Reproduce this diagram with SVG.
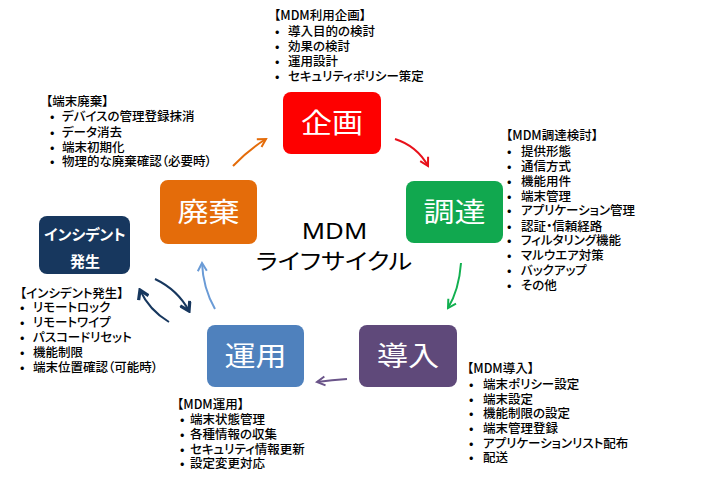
<svg xmlns="http://www.w3.org/2000/svg" width="708" height="487" viewBox="0 0 708 487">
<style>
.t{font-family:"Noto Sans CJK JP","Noto Sans",sans-serif;font-size:12.5px;font-weight:500;fill:#000;font-feature-settings:"palt";}
.big{font-family:"Noto Sans CJK JP","Noto Sans",sans-serif;font-size:27px;fill:#fff;text-anchor:middle;}
.inc{font-family:"Noto Sans CJK JP","Noto Sans",sans-serif;font-size:15px;font-weight:bold;fill:#fff;text-anchor:middle;font-feature-settings:"palt";}
.c{fill:none;stroke-width:2;}
</style>
<defs>
<marker id="mo" viewBox="-10 -6 12 12" markerWidth="12" markerHeight="12" refX="0" refY="0" orient="auto" markerUnits="userSpaceOnUse"><path d="M-8,-4.5 L0,0 L-8,4.5" fill="none" stroke="#e46c0a" stroke-width="2"/></marker>
<marker id="mr" viewBox="-10 -6 12 12" markerWidth="12" markerHeight="12" refX="0" refY="0" orient="auto" markerUnits="userSpaceOnUse"><path d="M-8,-4.5 L0,0 L-8,4.5" fill="none" stroke="#e8111b" stroke-width="2"/></marker>
<marker id="mg" viewBox="-10 -6 12 12" markerWidth="12" markerHeight="12" refX="0" refY="0" orient="auto" markerUnits="userSpaceOnUse"><path d="M-8,-4.5 L0,0 L-8,4.5" fill="none" stroke="#12b050" stroke-width="2"/></marker>
<marker id="mp" viewBox="-10 -6 12 12" markerWidth="12" markerHeight="12" refX="0" refY="0" orient="auto" markerUnits="userSpaceOnUse"><path d="M-8,-4.5 L0,0 L-8,4.5" fill="none" stroke="#6a5489" stroke-width="2"/></marker>
<marker id="mb" viewBox="-10 -6 12 12" markerWidth="12" markerHeight="12" refX="0" refY="0" orient="auto" markerUnits="userSpaceOnUse"><path d="M-8,-4.5 L0,0 L-8,4.5" fill="none" stroke="#6a9bd6" stroke-width="2"/></marker>
<marker id="mn" viewBox="-10 -6 12 12" markerWidth="13" markerHeight="13" refX="0" refY="0" orient="auto" markerUnits="userSpaceOnUse"><path d="M-8,-5 L0,0 L-8,5" fill="none" stroke="#17375e" stroke-width="3"/></marker>
</defs>

<g id="connectors">
<path class="c" stroke="#e46c0a" d="M233,166 Q248,150 266,139" marker-end="url(#mo)"/>
<path class="c" stroke="#e8111b" d="M395,139 Q417,146 428,166" marker-end="url(#mr)"/>
<path class="c" stroke="#12b050" d="M461,263 Q459,290 448,308" marker-end="url(#mg)"/>
<path class="c" stroke="#6a5489" d="M347,379 Q332,380 317,382" marker-end="url(#mp)"/>
<path class="c" stroke="#6a9bd6" d="M215,309 Q203,288 202,263" marker-end="url(#mb)"/>
<path class="c" stroke="#17375e" stroke-width="3" d="M155,279 Q178,290 189,311" marker-end="url(#mn)"/>
<path class="c" stroke="#17375e" stroke-width="3" d="M169,322 Q149,310 140,290" marker-end="url(#mn)"/>
</g>

<g id="kikaku">
<rect x="283" y="92" width="98" height="62" rx="8" fill="#fe0000"/>
<text class="big" transform="translate(332,132.5) scale(1.15,1)">企画</text>
</g>
<g id="chotatsu">
<rect x="406" y="181" width="97" height="62" rx="8" fill="#11a84f"/>
<text class="big" transform="translate(454.5,221.5) scale(1.15,1)">調達</text>
</g>
<g id="donyu">
<rect x="359" y="325" width="98" height="62" rx="8" fill="#5f497a"/>
<text class="big" transform="translate(408,365.5) scale(1.15,1)">導入</text>
</g>
<g id="unyo">
<rect x="207" y="325" width="97" height="62" rx="8" fill="#4f81bd"/>
<text class="big" transform="translate(255.5,365.5) scale(1.15,1)">運用</text>
</g>
<g id="haiki">
<rect x="160" y="180" width="97" height="64" rx="8" fill="#e46c0a"/>
<text class="big" transform="translate(208.5,221.5) scale(1.15,1)">廃棄</text>
</g>
<g id="incident">
<rect x="39" y="216" width="91" height="58" rx="8" fill="#17375e"/>
<text class="inc" x="85" y="240">インシデント</text>
<text class="inc" x="85" y="267">発生</text>
</g>

<g id="center-title">
<text transform="translate(334.5,239) scale(1.15,1)" text-anchor="middle" style="font-family:'Noto Sans',sans-serif;font-size:22.4px;fill:#000">MDM</text>
<text transform="translate(334,269) scale(1.15,1)" text-anchor="middle" style="font-family:'Noto Sans CJK JP',sans-serif;font-size:22px;fill:#000;font-feature-settings:'palt'">ライフサイクル</text>
</g>

<g id="note-kikaku">
<text class="t" x="274" y="20">【MDM利用企画】</text>
<text class="t" y="36"><tspan x="275">•</tspan><tspan x="288">導入目的の検討</tspan></text>
<text class="t" y="51"><tspan x="275">•</tspan><tspan x="288">効果の検討</tspan></text>
<text class="t" y="66"><tspan x="275">•</tspan><tspan x="288">運用設計</tspan></text>
<text class="t" y="81"><tspan x="275">•</tspan><tspan x="288">セキュリティポリシー策定</tspan></text>
</g>

<g id="note-haiki">
<text class="t" x="46" y="106">【端末廃棄】</text>
<text class="t" y="121"><tspan x="50">•</tspan><tspan x="62">デバイスの管理登録抹消</tspan></text>
<text class="t" y="136.5"><tspan x="50">•</tspan><tspan x="62">データ消去</tspan></text>
<text class="t" y="151.5"><tspan x="50">•</tspan><tspan x="62">端末初期化</tspan></text>
<text class="t" y="166"><tspan x="50">•</tspan><tspan x="62">物理的な廃棄確認（必要時）</tspan></text>
</g>

<g id="note-chotatsu">
<text class="t" x="506" y="139.5">【MDM調達検討】</text>
<text class="t" y="156"><tspan x="507">•</tspan><tspan x="521">提供形態</tspan></text>
<text class="t" y="171"><tspan x="507">•</tspan><tspan x="521">通信方式</tspan></text>
<text class="t" y="185.5"><tspan x="507">•</tspan><tspan x="521">機能用件</tspan></text>
<text class="t" y="200.5"><tspan x="507">•</tspan><tspan x="521">端末管理</tspan></text>
<text class="t" y="215"><tspan x="507">•</tspan><tspan x="521">アプリケーション管理</tspan></text>
<text class="t" y="230.5"><tspan x="507">•</tspan><tspan x="521">認証・信頼経路</tspan></text>
<text class="t" y="245"><tspan x="507">•</tspan><tspan x="521">フィルタリング機能</tspan></text>
<text class="t" y="260"><tspan x="507">•</tspan><tspan x="521">マルウエア対策</tspan></text>
<text class="t" y="275"><tspan x="507">•</tspan><tspan x="521">バックアップ</tspan></text>
<text class="t" y="289.5"><tspan x="507">•</tspan><tspan x="521">その他</tspan></text>
</g>

<g id="note-incident">
<text class="t" x="20" y="298">【インシデント発生】</text>
<text class="t" y="312"><tspan x="20">•</tspan><tspan x="33">リモートロック</tspan></text>
<text class="t" y="326.5"><tspan x="20">•</tspan><tspan x="33">リモートワイプ</tspan></text>
<text class="t" y="342"><tspan x="20">•</tspan><tspan x="33">パスコードリセット</tspan></text>
<text class="t" y="356.5"><tspan x="20">•</tspan><tspan x="33">機能制限</tspan></text>
<text class="t" y="372"><tspan x="20">•</tspan><tspan x="33">端末位置確認（可能時）</tspan></text>
</g>

<g id="note-unyo">
<text class="t" x="177" y="408.5">【MDM運用】</text>
<text class="t" y="423.5"><tspan x="180">•</tspan><tspan x="190">端末状態管理</tspan></text>
<text class="t" y="438.5"><tspan x="180">•</tspan><tspan x="190">各種情報の収集</tspan></text>
<text class="t" y="453.5"><tspan x="180">•</tspan><tspan x="190">セキュリティ情報更新</tspan></text>
<text class="t" y="467.5"><tspan x="180">•</tspan><tspan x="190">設定変更対応</tspan></text>
</g>

<g id="note-donyu">
<text class="t" x="467" y="373">【MDM導入】</text>
<text class="t" y="388.5"><tspan x="469">•</tspan><tspan x="483">端末ポリシー設定</tspan></text>
<text class="t" y="403.5"><tspan x="469">•</tspan><tspan x="483">端末設定</tspan></text>
<text class="t" y="418"><tspan x="469">•</tspan><tspan x="483">機能制限の設定</tspan></text>
<text class="t" y="433"><tspan x="469">•</tspan><tspan x="483">端末管理登録</tspan></text>
<text class="t" y="447.5"><tspan x="469">•</tspan><tspan x="483">アプリケーションリスト配布</tspan></text>
<text class="t" y="462"><tspan x="469">•</tspan><tspan x="483">配送</tspan></text>
</g>
</svg>
